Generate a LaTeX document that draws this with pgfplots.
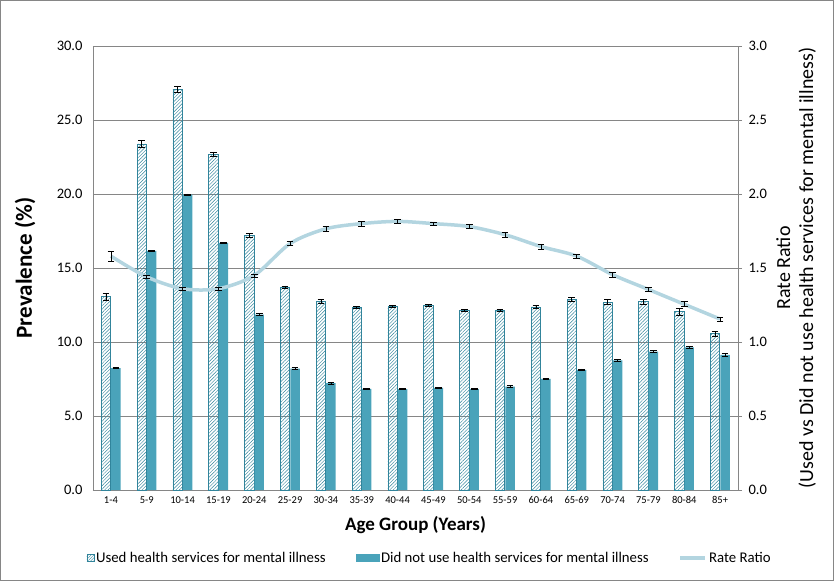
\documentclass[border=0pt]{standalone}
\usepackage{pgfplots}
\pgfplotsset{compat=1.18}
\usepackage{pgfplotstable}
\usepackage{fontspec}
\setmainfont{Carlito}
\usetikzlibrary{patterns.meta}
\definecolor{hatchc}{HTML}{31849B}
\definecolor{solidc}{HTML}{4AA3BA}
\definecolor{linec}{HTML}{B3D5E0}
\definecolor{gridc}{HTML}{868686}

\pgfplotstableread{
x hv he sv se rr re
0 13.06 0.25 8.24 0.05 1.58 0.035
1 23.38 0.22 16.15 0.05 1.44 0.012
2 27.08 0.22 19.95 0.06 1.36 0.010
3 22.70 0.15 16.69 0.05 1.36 0.010
4 17.20 0.15 11.85 0.07 1.45 0.010
5 13.70 0.09 8.20 0.07 1.665 0.013
6 12.75 0.12 7.22 0.05 1.765 0.015
7 12.34 0.08 6.84 0.04 1.80 0.015
8 12.42 0.09 6.82 0.04 1.815 0.015
9 12.46 0.08 6.90 0.03 1.80 0.010
10 12.16 0.06 6.82 0.04 1.78 0.012
11 12.14 0.08 6.98 0.07 1.725 0.015
12 12.37 0.09 7.50 0.04 1.645 0.018
13 12.90 0.12 8.12 0.06 1.58 0.015
14 12.70 0.17 8.76 0.07 1.455 0.015
15 12.73 0.17 9.35 0.07 1.355 0.015
16 12.05 0.22 9.63 0.08 1.255 0.017
17 10.56 0.18 9.13 0.09 1.155 0.015
}\datatable

\pgfplotsset{
  myerr/.style={
    error bars/.cd, y dir=both, y explicit,
    error bar style={black, line width=0.6bp},
    error mark options={rotate=90, mark size=3.4bp, line width=0.6bp, black},
  },
}

\begin{document}
\begin{tikzpicture}[x=1bp,y=1bp]
\begin{axis}[
  at={(0bp,0bp)}, anchor=south west,
  scale only axis, width=645bp, height=444bp,
  xmin=-0.5, xmax=17.5, ymin=0, ymax=30,
  axis x line*=bottom, axis y line*=left,
  axis line style={gridc, line width=0.75bp},
  ymajorgrids, grid style={gridc, line width=0.75bp},
  major tick length=0pt,
  xtick={0,...,17},
  xticklabels={1-4,5-9,10-14,15-19,20-24,25-29,30-34,35-39,40-44,45-49,50-54,55-59,60-64,65-69,70-74,75-79,80-84,85+},
  xticklabel style={font=\fontsize{10.5bp}{12bp}\selectfont, yshift=-3bp},
  ytick={0,5,...,30},
  yticklabel style={font=\fontsize{14.5bp}{16bp}\selectfont, xshift=-7bp},
  /pgf/number format/.cd, fixed, fixed zerofill, precision=1, assume math mode=true,
  /pgfplots/.cd,
  ylabel={\bfseries Prevalence (\%)},
  every axis y label/.style={at={(axis description cs:-0.1054,0.5)}, rotate=90, anchor=center, font=\fontsize{23bp}{26bp}\selectfont},
  xlabel={\bfseries Age Group (Years)},
  every axis x label/.style={at={(axis description cs:0.5,-0.079)}, anchor=center, font=\fontsize{19bp}{22bp}\selectfont},
  ybar=0.6bp, bar width=9.4bp,
  clip=false,
]
\addplot[draw=hatchc, line width=0.6bp, pattern={Lines[angle=45,distance=2.4bp,line width=0.45bp]}, pattern color=hatchc, myerr]
  table[x=x, y=hv, y error=he] {\datatable};
\addplot[draw=none, fill=solidc, myerr]
  table[x=x, y=sv, y error=se] {\datatable};
\end{axis}

\begin{axis}[
  at={(0bp,0bp)}, anchor=south west,
  scale only axis, width=645bp, height=444bp,
  xmin=-0.5, xmax=17.5, ymin=0, ymax=3,
  axis x line=none, axis y line*=right,
  axis line style={gridc, line width=0.75bp},
  ytick={0,0.5,...,3},
  major tick length=4bp,
  tick style={gridc, line width=0.75bp},
  tick align=outside,
  yticklabel style={font=\fontsize{14.5bp}{16bp}\selectfont, xshift=3bp},
  /pgf/number format/.cd, fixed, fixed zerofill, precision=1, assume math mode=true,
  /pgfplots/.cd,
  ylabel={Rate Ratio\\(Used vs Did not use health services for mental illness)},
  every axis y label/.style={at={(axis description cs:1.090,0.5)}, rotate=90, anchor=center, align=center, font=\fontsize{20bp}{23bp}\selectfont},
  legend style={at={(axis description cs:0.522,-0.153)}, anchor=center, draw=none, fill=none,
    font=\fontsize{14.8bp}{16bp}\selectfont, legend columns=3,
    /tikz/every even column/.append style={column sep=28bp},
    inner sep=0pt},
  legend cell align=left,
  clip=false,
]
\addlegendimage{legend image code/.code={\draw[draw=hatchc, line width=0.5bp, pattern={Lines[angle=45,distance=2bp,line width=0.4bp]}, pattern color=hatchc] (12bp,-3.5bp) rectangle (19bp,3.5bp);}}
\addlegendentry{Used health services for mental illness}
\addlegendimage{legend image code/.code={\fill[solidc] (-4bp,-3.5bp) rectangle (19bp,3.5bp);}}
\addlegendentry{Did not use health services for mental illness}
\addplot[linec, line width=3.5bp, smooth, mark=none,
  legend image code/.code={\draw[linec, line width=3.5bp] (-6bp,0bp) -- (19bp,0bp);}, myerr]
  table[x=x, y=rr, y error=re] {\datatable};
\addlegendentry{Rate Ratio}
\end{axis}
\draw[gridc, line width=0.75bp] (-92.4bp,-90.4bp) rectangle (740.4bp,489.6bp);
\pgfresetboundingbox
\path[use as bounding box] (-93bp,-91bp) rectangle (741bp,490bp);
\end{tikzpicture}
\end{document}
